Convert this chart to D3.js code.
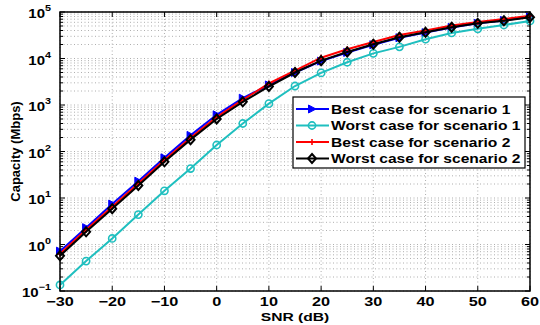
<!DOCTYPE html>
<html>
<head>
<meta charset="utf-8">
<script src="https://cdn.jsdelivr.net/npm/d3@7"></script>
<style>
  body { margin: 0; background: #fff; }
  svg { font-family: "Liberation Sans", Arial, sans-serif; }
</style>
</head>
<body>
<div id="vis"></div>
<script>
const snr = [-30, -25, -20, -15, -10, -5, 0, 5, 10, 15, 20, 25, 30, 35, 40, 45, 50, 55, 60];
const bestS1 = [0.72, 2.3, 7.4, 23, 73, 222, 615, 1400, 2700, 5000, 8800, 13500, 19800, 28000, 36000, 46500, 57000, 66000, 78000];
const worstS1 = [0.135, 0.44, 1.35, 4.4, 14.3, 43, 138, 400, 1070, 2560, 4900, 8300, 12900, 17800, 26000, 35500, 43500, 52500, 64000];
const bestS2 = [0.63, 2.07, 6.5, 20.5, 66, 198, 550, 1290, 2900, 5500, 10400, 15800, 22700, 32000, 40000, 51000, 61000, 71000, 83000];
const worstS2 = [0.57, 1.87, 5.9, 18.6, 60, 180, 500, 1170, 2500, 5000, 9000, 13800, 20300, 28600, 36600, 47000, 57000, 65000, 77000];
const seriesNames = ["Best case for scenario 1", "Worst case for scenario 1", "Best case for scenario 2", "Worst case for scenario 2"];
const xTicks = [-30, -20, -10, 0, 10, 20, 30, 40, 50, 60];
const yExponents = [-1, 0, 1, 2, 3, 4, 5];

const W = 540, H = 325;
const margin = { top: 12, right: 10, bottom: 34, left: 60 };
const width = W - margin.left - margin.right;
const height = H - margin.top - margin.bottom;
const stretch = 1.3; // the original text is wide

const x = d3.scaleLinear().domain([-30, 60]).range([0, width]);
const y = d3.scaleLog().domain([0.1, 1e5]).range([height, 0]);

const svg = d3.select("#vis").append("svg")
  .attr("width", W).attr("height", H);
const g = svg.append("g").attr("transform", `translate(${margin.left},${margin.top})`);

// wide bold text, anchored at (px, py)
function wideText(parent, px, py, anchor, size, sx) {
  return parent.append("g").attr("transform", `translate(${px},${py}) scale(${sx},1)`)
    .append("text").attr("text-anchor", anchor)
    .attr("font-size", size).attr("font-weight", "bold");
}
const fmt = v => v < 0 ? "\u2212" + Math.abs(v) : String(v);

// minor values for log grid
const minorY = [];
for (let e = -1; e < 5; e++) for (let m = 2; m <= 9; m++) minorY.push(m * Math.pow(10, e));

// grid
const grid = g.append("g").attr("stroke", "#9a9a9a").attr("stroke-width", 0.8)
  .attr("stroke-dasharray", "1,2.5");
grid.selectAll(".gy").data(minorY.concat(yExponents.map(e => Math.pow(10, e)))).enter().append("line")
  .attr("x1", 0).attr("x2", width)
  .attr("y1", d => y(d)).attr("y2", d => y(d));
grid.selectAll(".gx").data(xTicks).enter().append("line")
  .attr("y1", 0).attr("y2", height)
  .attr("x1", d => x(d)).attr("x2", d => x(d));

// inward ticks on all sides
const ticks = g.append("g").attr("stroke", "#000").attr("stroke-width", 1);
xTicks.forEach(v => {
  ticks.append("line").attr("x1", x(v)).attr("x2", x(v)).attr("y1", height).attr("y2", height - 5);
  ticks.append("line").attr("x1", x(v)).attr("x2", x(v)).attr("y1", 0).attr("y2", 5);
});
yExponents.forEach(e => {
  const yy = y(Math.pow(10, e));
  ticks.append("line").attr("x1", 0).attr("x2", 5).attr("y1", yy).attr("y2", yy);
  ticks.append("line").attr("x1", width).attr("x2", width - 5).attr("y1", yy).attr("y2", yy);
});
minorY.forEach(v => {
  ticks.append("line").attr("x1", 0).attr("x2", 3).attr("y1", y(v)).attr("y2", y(v));
  ticks.append("line").attr("x1", width).attr("x2", width - 3).attr("y1", y(v)).attr("y2", y(v));
});

// series
const colors = ["#0000ff", "#1fbfbf", "#ff0000", "#000000"];
const allData = [bestS1, worstS1, bestS2, worstS2];
const line = d3.line().x(d => x(d[0])).y(d => y(d[1]));

function drawMarker(sel, i, c) {
  if (i === 0) {
    sel.append("path").attr("d", "M-3.5,-4 L4,0 L-3.5,4 Z").attr("fill", c).attr("stroke", c).attr("stroke-width", 1);
  } else if (i === 1) {
    sel.append("circle").attr("r", 3.6).attr("fill", "none").attr("stroke", c).attr("stroke-width", 1.6);
  } else if (i === 2) {
    sel.append("path").attr("d", "M-3,0 H3 M0,-3 V3").attr("stroke", c).attr("stroke-width", 1.6);
  } else {
    sel.append("path").attr("d", "M0,-4.5 L4,0 L0,4.5 L-4,0 Z").attr("fill", "none").attr("stroke", c).attr("stroke-width", 2);
  }
}

allData.forEach((vals, i) => {
  const pts = snr.map((s, k) => [s, vals[k]]);
  g.append("path").datum(pts)
    .attr("fill", "none").attr("stroke", colors[i]).attr("stroke-width", 2)
    .attr("d", line);
  g.append("g").selectAll("g").data(pts).enter().append("g")
    .attr("transform", d => `translate(${x(d[0])},${y(d[1])})`)
    .each(function () { drawMarker(d3.select(this), i, colors[i]); });
});

// frame
g.append("rect").attr("x", 0).attr("y", 0).attr("width", width).attr("height", height)
  .attr("fill", "none").attr("stroke", "#000").attr("stroke-width", 1.5);

// x tick labels
xTicks.forEach(v => {
  wideText(g, x(v), height + 15, "middle", 12.5, stretch).text(fmt(v));
});

// y tick labels
yExponents.forEach(e => {
  const t = wideText(g, -9, y(Math.pow(10, e)) + 6, "end", 12.5, 1.2);
  t.append("tspan").text("10");
  t.append("tspan").attr("dy", -7).attr("font-size", 9).text(fmt(e));
});

// axis titles
wideText(svg, margin.left + width / 2, 320.5, "middle", 11.5, 1.36).text("SNR (dB)");
svg.append("text").attr("transform", `translate(20,${margin.top + height / 2}) rotate(-90)`)
  .attr("text-anchor", "middle").attr("font-size", 13).attr("font-weight", "bold")
  .text("Capacity (Mbps)");

// legend
const lg = svg.append("g").attr("transform", "translate(293,97)");
lg.append("rect").attr("width", 232).attr("height", 71)
  .attr("fill", "#fff").attr("stroke", "#000").attr("stroke-width", 1.2);
seriesNames.forEach((name, i) => {
  const row = lg.append("g").attr("transform", `translate(0,${12 + i * 16.5})`);
  row.append("line").attr("x1", 3).attr("x2", 36).attr("stroke", colors[i]).attr("stroke-width", 2);
  const m = row.append("g").attr("transform", "translate(19,0)");
  drawMarker(m, i, colors[i]);
  wideText(row, 38, 4.5, "start", 12, stretch).text(name);
});
</script>
</body>
</html>
